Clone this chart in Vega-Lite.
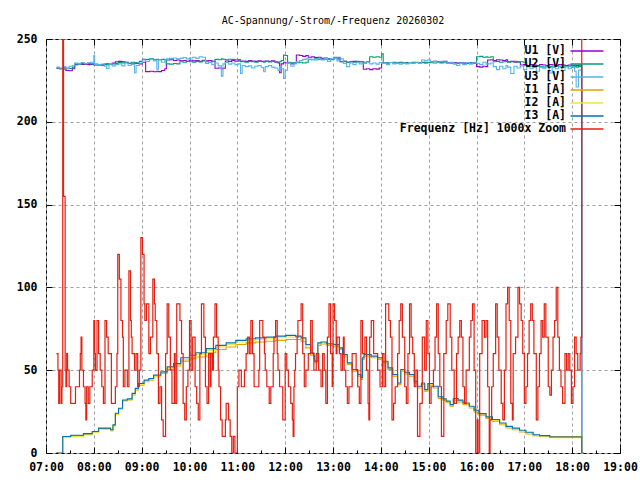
{
  "$schema": "https://vega.github.io/schema/vega-lite/v6.json",
  "width": 574,
  "height": 414,
  "autosize": {"type": "none"},
  "padding": {"left": 46, "top": 39, "right": 20, "bottom": 27},
  "background": "white",
  "title": {"text": "AC-Spannung/-Strom/-Frequenz 20260302", "font": "DejaVu Sans Mono", "fontSize": 10, "fontWeight": "normal", "offset": 7, "color": "black"},
  "config": {
    "view": {"stroke": "black", "strokeWidth": 1},
    "axis": {"labelFont": "DejaVu Sans Mono", "labelFontSize": 11.5, "labelFontWeight": "bold", "labelColor": "black", "domainColor": "black", "tickColor": "black", "gridColor": "#a0a0a0", "gridDash": [3, 3], "gridWidth": 1, "title": null}
  },
  "resolve": {"axis": {"x": "independent", "y": "independent"}},
  "layer": [
    {
      "data": {
        "format": {"parse": {"t": "date:'%H:%M'"}},
        "values": [
          {"t": "07:13", "U1": 232.3, "U2": 232.5, "U3": 233.0},
          {"t": "07:17", "U1": 232.0, "U2": 232.0, "U3": 232.5},
          {"t": "07:21", "U1": 232.5, "U2": 231.8, "U3": 233.3},
          {"t": "07:25", "U1": 231.0, "U2": 232.5, "U3": 232.0},
          {"t": "07:29", "U1": 230.8, "U2": 232.2, "U3": 233.5},
          {"t": "07:33", "U1": 232.0, "U2": 233.0, "U3": 234.0},
          {"t": "07:36", "U1": 234.5, "U2": 235.0, "U3": 235.5},
          {"t": "07:40", "U1": 234.8, "U2": 234.8, "U3": 235.0},
          {"t": "07:44", "U1": 234.6, "U2": 235.2, "U3": 235.8},
          {"t": "07:48", "U1": 234.8, "U2": 235.0, "U3": 235.2},
          {"t": "07:52", "U1": 234.5, "U2": 235.3, "U3": 235.6},
          {"t": "07:56", "U1": 234.7, "U2": 235.0, "U3": 236.0},
          {"t": "08:00", "U1": 234.3, "U2": 234.8, "U3": 240.0},
          {"t": "08:01", "U1": 234.3, "U2": 234.8, "U3": 234.5},
          {"t": "08:05", "U1": 234.0, "U2": 234.3, "U3": 234.2},
          {"t": "08:09", "U1": 234.5, "U2": 234.0, "U3": 234.8},
          {"t": "08:13", "U1": 234.8, "U2": 234.5, "U3": 233.5},
          {"t": "08:16", "U1": 235.0, "U2": 234.3, "U3": 232.2},
          {"t": "08:19", "U1": 234.6, "U2": 234.8, "U3": 234.8},
          {"t": "08:23", "U1": 235.5, "U2": 235.0, "U3": 233.8},
          {"t": "08:27", "U1": 236.3, "U2": 235.3, "U3": 234.5},
          {"t": "08:31", "U1": 236.5, "U2": 235.8, "U3": 235.0},
          {"t": "08:35", "U1": 236.2, "U2": 235.5, "U3": 233.8},
          {"t": "08:39", "U1": 236.0, "U2": 236.0, "U3": 235.5},
          {"t": "08:43", "U1": 235.3, "U2": 235.2, "U3": 234.0},
          {"t": "08:47", "U1": 235.0, "U2": 236.0, "U3": 234.8},
          {"t": "08:51", "U1": 235.5, "U2": 235.7, "U3": 229.6},
          {"t": "08:53", "U1": 235.3, "U2": 235.5, "U3": 234.0},
          {"t": "08:57", "U1": 235.0, "U2": 236.5, "U3": 235.5},
          {"t": "09:01", "U1": 236.0, "U2": 237.7, "U3": 237.3},
          {"t": "09:05", "U1": 230.3, "U2": 237.7, "U3": 236.5},
          {"t": "09:10", "U1": 230.5, "U2": 238.0, "U3": 237.5},
          {"t": "09:15", "U1": 230.2, "U2": 237.5, "U3": 236.8},
          {"t": "09:19", "U1": 230.5, "U2": 237.8, "U3": 231.7},
          {"t": "09:21", "U1": 230.3, "U2": 237.5, "U3": 237.3},
          {"t": "09:25", "U1": 231.0, "U2": 237.7, "U3": 236.0},
          {"t": "09:29", "U1": 232.0, "U2": 237.5, "U3": 237.5},
          {"t": "09:31", "U1": 237.3, "U2": 235.0, "U3": 238.0},
          {"t": "09:35", "U1": 237.5, "U2": 234.8, "U3": 238.3},
          {"t": "09:40", "U1": 237.0, "U2": 235.2, "U3": 238.5},
          {"t": "09:44", "U1": 237.3, "U2": 235.0, "U3": 238.0},
          {"t": "09:48", "U1": 236.9, "U2": 236.3, "U3": 238.3},
          {"t": "09:52", "U1": 237.0, "U2": 236.0, "U3": 238.8},
          {"t": "09:56", "U1": 236.5, "U2": 236.5, "U3": 238.0},
          {"t": "10:00", "U1": 237.2, "U2": 236.3, "U3": 238.5},
          {"t": "10:04", "U1": 236.8, "U2": 236.0, "U3": 239.0},
          {"t": "10:08", "U1": 237.0, "U2": 236.5, "U3": 238.3},
          {"t": "10:12", "U1": 236.5, "U2": 236.2, "U3": 239.3},
          {"t": "10:16", "U1": 237.2, "U2": 236.8, "U3": 239.0},
          {"t": "10:20", "U1": 236.9, "U2": 236.3, "U3": 235.3},
          {"t": "10:24", "U1": 237.0, "U2": 236.0, "U3": 236.0},
          {"t": "10:28", "U1": 236.5, "U2": 236.5, "U3": 234.5},
          {"t": "10:32", "U1": 232.3, "U2": 237.7, "U3": 235.5},
          {"t": "10:36", "U1": 232.5, "U2": 237.5, "U3": 233.8},
          {"t": "10:40", "U1": 232.0, "U2": 238.0, "U3": 227.6},
          {"t": "10:42", "U1": 232.3, "U2": 237.8, "U3": 235.0},
          {"t": "10:45", "U1": 236.7, "U2": 237.5, "U3": 235.8},
          {"t": "10:49", "U1": 236.5, "U2": 237.8, "U3": 234.8},
          {"t": "10:53", "U1": 237.0, "U2": 237.7, "U3": 235.5},
          {"t": "10:57", "U1": 236.6, "U2": 237.5, "U3": 234.5},
          {"t": "11:01", "U1": 236.8, "U2": 237.6, "U3": 235.0},
          {"t": "11:04", "U1": 236.5, "U2": 236.3, "U3": 229.2},
          {"t": "11:06", "U1": 236.7, "U2": 236.3, "U3": 234.0},
          {"t": "11:10", "U1": 236.5, "U2": 236.0, "U3": 233.3},
          {"t": "11:14", "U1": 237.0, "U2": 236.5, "U3": 233.8},
          {"t": "11:18", "U1": 236.7, "U2": 236.3, "U3": 232.5},
          {"t": "11:22", "U1": 236.5, "U2": 236.0, "U3": 233.5},
          {"t": "11:26", "U1": 236.8, "U2": 236.4, "U3": 234.0},
          {"t": "11:30", "U1": 236.5, "U2": 236.3, "U3": 232.8},
          {"t": "11:33", "U1": 236.6, "U2": 236.0, "U3": 230.2},
          {"t": "11:35", "U1": 236.7, "U2": 236.5, "U3": 233.3},
          {"t": "11:39", "U1": 236.5, "U2": 236.2, "U3": 234.0},
          {"t": "11:43", "U1": 236.8, "U2": 236.5, "U3": 233.0},
          {"t": "11:47", "U1": 236.0, "U2": 236.3, "U3": 232.5},
          {"t": "11:51", "U1": 235.5, "U2": 236.0, "U3": 231.0},
          {"t": "11:53", "U1": 229.6, "U2": 236.3, "U3": 233.3},
          {"t": "11:55", "U1": 235.0, "U2": 237.0, "U3": 232.0},
          {"t": "11:58", "U1": 236.0, "U2": 240.3, "U3": 226.2},
          {"t": "12:00", "U1": 235.5, "U2": 240.0, "U3": 231.2},
          {"t": "12:03", "U1": 235.3, "U2": 236.0, "U3": 235.3},
          {"t": "12:07", "U1": 235.0, "U2": 235.7, "U3": 233.5},
          {"t": "12:11", "U1": 235.5, "U2": 235.5, "U3": 235.0},
          {"t": "12:14", "U1": 240.3, "U2": 235.7, "U3": 236.3},
          {"t": "12:18", "U1": 240.0, "U2": 236.0, "U3": 237.0},
          {"t": "12:22", "U1": 239.5, "U2": 235.5, "U3": 237.7},
          {"t": "12:26", "U1": 240.0, "U2": 236.0, "U3": 238.0},
          {"t": "12:29", "U1": 239.0, "U2": 237.7, "U3": 237.5},
          {"t": "12:33", "U1": 239.2, "U2": 237.5, "U3": 237.7},
          {"t": "12:37", "U1": 238.8, "U2": 238.0, "U3": 237.3},
          {"t": "12:41", "U1": 239.0, "U2": 237.7, "U3": 238.0},
          {"t": "12:45", "U1": 238.3, "U2": 237.5, "U3": 237.5},
          {"t": "12:49", "U1": 238.5, "U2": 237.8, "U3": 238.3},
          {"t": "12:53", "U1": 238.0, "U2": 238.0, "U3": 236.5},
          {"t": "12:57", "U1": 237.7, "U2": 237.5, "U3": 238.0},
          {"t": "13:01", "U1": 238.3, "U2": 239.0, "U3": 238.3},
          {"t": "13:05", "U1": 238.0, "U2": 239.0, "U3": 236.8},
          {"t": "13:09", "U1": 236.3, "U2": 236.3, "U3": 238.0},
          {"t": "13:13", "U1": 236.5, "U2": 236.5, "U3": 235.3},
          {"t": "13:17", "U1": 236.0, "U2": 236.0, "U3": 233.3},
          {"t": "13:21", "U1": 236.3, "U2": 236.3, "U3": 235.5},
          {"t": "13:25", "U1": 236.5, "U2": 236.0, "U3": 234.5},
          {"t": "13:29", "U1": 236.0, "U2": 236.5, "U3": 235.8},
          {"t": "13:33", "U1": 236.3, "U2": 236.3, "U3": 235.0},
          {"t": "13:38", "U1": 231.7, "U2": 236.0, "U3": 235.3},
          {"t": "13:42", "U1": 232.0, "U2": 236.3, "U3": 236.0},
          {"t": "13:46", "U1": 231.5, "U2": 239.3, "U3": 235.0},
          {"t": "13:50", "U1": 232.0, "U2": 239.0, "U3": 235.5},
          {"t": "13:54", "U1": 231.8, "U2": 239.3, "U3": 234.8},
          {"t": "13:58", "U1": 232.5, "U2": 239.0, "U3": 235.8},
          {"t": "14:01", "U1": 235.7, "U2": 241.0, "U3": 235.3},
          {"t": "14:03", "U1": 235.7, "U2": 235.7, "U3": 235.5},
          {"t": "14:07", "U1": 235.5, "U2": 235.5, "U3": 234.5},
          {"t": "14:11", "U1": 235.8, "U2": 235.8, "U3": 235.8},
          {"t": "14:15", "U1": 235.5, "U2": 236.0, "U3": 235.0},
          {"t": "14:19", "U1": 235.7, "U2": 235.5, "U3": 235.5},
          {"t": "14:23", "U1": 236.0, "U2": 235.7, "U3": 234.8},
          {"t": "14:27", "U1": 235.5, "U2": 235.8, "U3": 235.5},
          {"t": "14:31", "U1": 235.8, "U2": 235.5, "U3": 235.0},
          {"t": "14:35", "U1": 235.7, "U2": 235.7, "U3": 235.8},
          {"t": "14:39", "U1": 235.5, "U2": 236.0, "U3": 235.3},
          {"t": "14:43", "U1": 235.8, "U2": 235.8, "U3": 236.0},
          {"t": "14:47", "U1": 235.7, "U2": 235.5, "U3": 235.3},
          {"t": "14:51", "U1": 236.0, "U2": 235.7, "U3": 237.3},
          {"t": "14:55", "U1": 235.5, "U2": 236.0, "U3": 237.0},
          {"t": "14:59", "U1": 235.8, "U2": 235.8, "U3": 237.5},
          {"t": "15:02", "U1": 236.3, "U2": 235.7, "U3": 236.3},
          {"t": "15:06", "U1": 236.5, "U2": 235.5, "U3": 236.5},
          {"t": "15:10", "U1": 236.3, "U2": 235.8, "U3": 236.0},
          {"t": "15:14", "U1": 236.0, "U2": 235.6, "U3": 236.5},
          {"t": "15:18", "U1": 236.5, "U2": 235.7, "U3": 236.3},
          {"t": "15:23", "U1": 235.7, "U2": 235.3, "U3": 235.3},
          {"t": "15:27", "U1": 235.5, "U2": 235.5, "U3": 236.0},
          {"t": "15:31", "U1": 235.8, "U2": 235.0, "U3": 235.3},
          {"t": "15:35", "U1": 235.5, "U2": 235.3, "U3": 234.0},
          {"t": "15:39", "U1": 235.7, "U2": 235.5, "U3": 235.5},
          {"t": "15:43", "U1": 235.5, "U2": 235.0, "U3": 234.5},
          {"t": "15:47", "U1": 235.8, "U2": 235.3, "U3": 235.8},
          {"t": "15:51", "U1": 235.6, "U2": 235.5, "U3": 234.8},
          {"t": "15:55", "U1": 235.7, "U2": 235.2, "U3": 235.5},
          {"t": "16:00", "U1": 233.3, "U2": 239.3, "U3": 235.3},
          {"t": "16:04", "U1": 233.0, "U2": 239.5, "U3": 234.5},
          {"t": "16:08", "U1": 233.5, "U2": 239.0, "U3": 236.0},
          {"t": "16:12", "U1": 233.3, "U2": 239.3, "U3": 234.8},
          {"t": "16:14", "U1": 237.3, "U2": 239.0, "U3": 235.0},
          {"t": "16:18", "U1": 237.5, "U2": 239.3, "U3": 235.5},
          {"t": "16:21", "U1": 237.0, "U2": 236.3, "U3": 233.3},
          {"t": "16:25", "U1": 237.5, "U2": 236.5, "U3": 231.5},
          {"t": "16:29", "U1": 237.3, "U2": 236.0, "U3": 233.5},
          {"t": "16:33", "U1": 237.0, "U2": 236.3, "U3": 232.0},
          {"t": "16:37", "U1": 237.5, "U2": 236.5, "U3": 234.0},
          {"t": "16:39", "U1": 236.3, "U2": 236.0, "U3": 233.0},
          {"t": "16:43", "U1": 236.5, "U2": 236.3, "U3": 229.2},
          {"t": "16:47", "U1": 236.0, "U2": 236.5, "U3": 233.5},
          {"t": "16:51", "U1": 236.3, "U2": 236.0, "U3": 232.5},
          {"t": "16:55", "U1": 234.3, "U2": 236.3, "U3": 233.8},
          {"t": "16:59", "U1": 234.5, "U2": 236.0, "U3": 231.5},
          {"t": "17:03", "U1": 234.0, "U2": 233.3, "U3": 233.5},
          {"t": "17:07", "U1": 234.5, "U2": 233.5, "U3": 232.0},
          {"t": "17:11", "U1": 234.3, "U2": 233.0, "U3": 233.8},
          {"t": "17:15", "U1": 234.0, "U2": 233.5, "U3": 230.5},
          {"t": "17:19", "U1": 234.5, "U2": 233.3, "U3": 233.0},
          {"t": "17:23", "U1": 234.3, "U2": 233.0, "U3": 232.3},
          {"t": "17:27", "U1": 234.0, "U2": 233.5, "U3": 233.5},
          {"t": "17:31", "U1": 234.5, "U2": 233.3, "U3": 229.5},
          {"t": "17:35", "U1": 234.3, "U2": 233.0, "U3": 233.0},
          {"t": "17:39", "U1": 234.0, "U2": 233.5, "U3": 232.0},
          {"t": "17:43", "U1": 234.5, "U2": 233.3, "U3": 233.5},
          {"t": "17:47", "U1": 234.3, "U2": 233.0, "U3": 231.0},
          {"t": "17:51", "U1": 234.0, "U2": 233.3, "U3": 233.3},
          {"t": "17:55", "U1": 234.3, "U2": 233.5, "U3": 232.0},
          {"t": "17:59", "U1": 234.0, "U2": 233.0, "U3": 233.5},
          {"t": "18:03", "U1": 234.3, "U2": 233.3, "U3": 230.5},
          {"t": "18:05", "U1": 234.0, "U2": 233.0, "U3": 221.0},
          {"t": "18:08", "U1": 234.2, "U2": 233.3, "U3": 231.2},
          {"t": "18:12", "U1": 0, "U2": 0, "U3": 0},
          {"t": "18:14", "U1": 0, "U2": 0, "U3": 0}
        ]
      },
      "transform": [{"fold": ["U1", "U2", "U3"], "as": ["series", "value"]}],
      "mark": {"type": "line", "interpolate": "step-after", "strokeWidth": 1.1, "clip": true},
      "encoding": {
        "x": {
          "field": "t", "type": "temporal",
          "scale": {"domain": [{"year": 1900, "month": 1, "date": 1, "hours": 7}, {"year": 1900, "month": 1, "date": 1, "hours": 19}]},
          "axis": {
            "orient": "bottom", "grid": true, "domain": false,
            "tickCount": 12, "format": "%H:%M",
            "tickSize": -6, "labelPadding": 14, "labelFlush": false, "labelOverlap": false
          }
        },
        "y": {
          "field": "value", "type": "quantitative",
          "scale": {"domain": [0, 250], "nice": false, "zero": false},
          "axis": {"orient": "left", "values": [0, 50, 100, 150, 200, 250], "grid": true, "domain": false, "tickSize": -6, "labelPadding": 15}
        },
        "color": {
          "field": "series", "type": "nominal",
          "scale": {"domain": ["U1", "U2", "U3", "I1", "I2", "I3", "F"], "range": ["#9400d3", "#009e73", "#56b4e9", "#e69f00", "#f0e442", "#0072b2", "#e51e10"]},
          "legend": {
            "orient": "none", "legendX": 534, "legendY": 5, "title": null, "padding": 0,
            "symbolType": "M-2.75,0H2.75", "symbolSize": 144, "symbolStrokeWidth": 1.5,
            "labelAlign": "right", "labelOffset": -28, "labelLimit": 400,
            "labelFont": "DejaVu Sans Mono", "labelFontSize": 11.5, "labelFontWeight": "bold", "labelColor": "black",
            "rowPadding": 0,
            "labelExpr": "datum.label == 'F' ? 'Frequenz [Hz] 1000x Zoom' : (datum.label[0] == 'U' ? datum.label + ' [V]' : datum.label + ' [A]')"
          }
        }
      }
    },
    {
      "data": {
        "format": {"parse": {"t": "date:'%H:%M'"}},
        "values": [
          {"t": "07:13", "I1": 0, "I2": 0, "I3": 0},
          {"t": "07:21", "I1": 10, "I2": 9.3, "I3": 10},
          {"t": "07:31", "I1": 10.4, "I2": 9.9, "I3": 10.7},
          {"t": "07:47", "I1": 11.4, "I2": 10.9, "I3": 11.7},
          {"t": "07:58", "I1": 12.7, "I2": 12.2, "I3": 13},
          {"t": "08:06", "I1": 14.7, "I2": 14.2, "I3": 15},
          {"t": "08:21", "I1": 13.7, "I2": 13.2, "I3": 14},
          {"t": "08:24", "I1": 16.5, "I2": 16.2, "I3": 17},
          {"t": "08:27", "I1": 23.5, "I2": 23.2, "I3": 24},
          {"t": "08:31", "I1": 26.5, "I2": 26.2, "I3": 27},
          {"t": "08:36", "I1": 31.5, "I2": 31.2, "I3": 32},
          {"t": "08:42", "I1": 32, "I2": 32, "I3": 32.7},
          {"t": "08:48", "I1": 35, "I2": 35.3, "I3": 36},
          {"t": "08:52", "I1": 38, "I2": 38.3, "I3": 39},
          {"t": "08:56", "I1": 41, "I2": 41.3, "I3": 42},
          {"t": "09:03", "I1": 43, "I2": 43.3, "I3": 44},
          {"t": "09:09", "I1": 44, "I2": 44.3, "I3": 45},
          {"t": "09:15", "I1": 46, "I2": 46.3, "I3": 47},
          {"t": "09:24", "I1": 48, "I2": 48.3, "I3": 49},
          {"t": "09:32", "I1": 50.5, "I2": 51.2, "I3": 52},
          {"t": "09:40", "I1": 52.5, "I2": 53.2, "I3": 54},
          {"t": "09:49", "I1": 55.5, "I2": 56.5, "I3": 57.5},
          {"t": "10:00", "I1": 57, "I2": 58, "I3": 59},
          {"t": "10:08", "I1": 58, "I2": 59.5, "I3": 60.5},
          {"t": "10:21", "I1": 60.5, "I2": 62, "I3": 63},
          {"t": "10:33", "I1": 62.5, "I2": 64, "I3": 65},
          {"t": "10:46", "I1": 64, "I2": 65.5, "I3": 66.5},
          {"t": "10:58", "I1": 65.5, "I2": 67, "I3": 68},
          {"t": "11:11", "I1": 66.5, "I2": 68, "I3": 69},
          {"t": "11:23", "I1": 67, "I2": 68.5, "I3": 69.5},
          {"t": "11:36", "I1": 67.5, "I2": 69, "I3": 70},
          {"t": "11:48", "I1": 68, "I2": 69.6, "I3": 70.6},
          {"t": "12:01", "I1": 68.5, "I2": 70, "I3": 71},
          {"t": "12:13", "I1": 68.5, "I2": 69.8, "I3": 70.6},
          {"t": "12:20", "I1": 67.5, "I2": 68.8, "I3": 69.5},
          {"t": "12:26", "I1": 63.5, "I2": 64.8, "I3": 65.5},
          {"t": "12:32", "I1": 59, "I2": 60, "I3": 60.5},
          {"t": "12:36", "I1": 57, "I2": 58, "I3": 58.5},
          {"t": "12:37", "I1": 54.5, "I2": 55, "I3": 55.5},
          {"t": "12:41", "I1": 65, "I2": 66, "I3": 66.5},
          {"t": "12:45", "I1": 65.8, "I2": 66.5, "I3": 67},
          {"t": "12:52", "I1": 65, "I2": 65.5, "I3": 66},
          {"t": "13:01", "I1": 64.5, "I2": 65, "I3": 65.5},
          {"t": "13:08", "I1": 62.5, "I2": 63, "I3": 63.5},
          {"t": "13:12", "I1": 58.5, "I2": 59, "I3": 59.5},
          {"t": "13:18", "I1": 53.4, "I2": 54, "I3": 54.4},
          {"t": "13:24", "I1": 49.4, "I2": 50, "I3": 50.4},
          {"t": "13:31", "I1": 46.4, "I2": 47, "I3": 47.4},
          {"t": "13:35", "I1": 44.4, "I2": 45, "I3": 45.4},
          {"t": "13:37", "I1": 56.5, "I2": 57, "I3": 57.5},
          {"t": "13:39", "I1": 58.5, "I2": 59, "I3": 59.5},
          {"t": "13:48", "I1": 57.5, "I2": 58, "I3": 58.5},
          {"t": "13:56", "I1": 56.5, "I2": 57, "I3": 57.5},
          {"t": "14:02", "I1": 54.4, "I2": 55, "I3": 55.4},
          {"t": "14:09", "I1": 50.4, "I2": 51, "I3": 51.4},
          {"t": "14:15", "I1": 46.4, "I2": 47, "I3": 47.4},
          {"t": "14:21", "I1": 41.3, "I2": 41.8, "I3": 42.3},
          {"t": "14:25", "I1": 49.4, "I2": 50, "I3": 50.4},
          {"t": "14:30", "I1": 47.8, "I2": 48.3, "I3": 48.8},
          {"t": "14:36", "I1": 46.4, "I2": 47, "I3": 47.4},
          {"t": "14:42", "I1": 42.3, "I2": 42.8, "I3": 43.3},
          {"t": "14:46", "I1": 39.3, "I2": 39.8, "I3": 40.3},
          {"t": "14:51", "I1": 41.3, "I2": 41.8, "I3": 42.3},
          {"t": "14:55", "I1": 37.3, "I2": 37.8, "I3": 38.3},
          {"t": "14:59", "I1": 41, "I2": 41.5, "I3": 42},
          {"t": "15:06", "I1": 39.3, "I2": 39.8, "I3": 40.3},
          {"t": "15:12", "I1": 33, "I2": 33.5, "I3": 34},
          {"t": "15:18", "I1": 31.7, "I2": 32.2, "I3": 32.7},
          {"t": "15:22", "I1": 30.3, "I2": 30.8, "I3": 31.3},
          {"t": "15:27", "I1": 28.2, "I2": 28.7, "I3": 29.2},
          {"t": "15:31", "I1": 31.9, "I2": 32.4, "I3": 32.9},
          {"t": "15:37", "I1": 30.9, "I2": 31.4, "I3": 31.9},
          {"t": "15:43", "I1": 29.2, "I2": 29.7, "I3": 30.2},
          {"t": "15:51", "I1": 27.2, "I2": 27.7, "I3": 28.2},
          {"t": "15:57", "I1": 24.8, "I2": 25.3, "I3": 25.8},
          {"t": "16:03", "I1": 22.8, "I2": 23.3, "I3": 23.8},
          {"t": "16:12", "I1": 20.8, "I2": 21.3, "I3": 21.8},
          {"t": "16:20", "I1": 19.2, "I2": 19.7, "I3": 20.2},
          {"t": "16:29", "I1": 17.1, "I2": 17.6, "I3": 18.1},
          {"t": "16:37", "I1": 15.1, "I2": 15.6, "I3": 16.1},
          {"t": "16:45", "I1": 14, "I2": 14.5, "I3": 15},
          {"t": "16:54", "I1": 12.7, "I2": 13.2, "I3": 13.7},
          {"t": "17:02", "I1": 11.5, "I2": 12, "I3": 12.5},
          {"t": "17:11", "I1": 10.5, "I2": 10.5, "I3": 11},
          {"t": "17:19", "I1": 10.3, "I2": 9.8, "I3": 10.5},
          {"t": "17:32", "I1": 10, "I2": 9.2, "I3": 9.7},
          {"t": "18:12", "I1": 0, "I2": 0, "I3": 0},
          {"t": "18:14", "I1": 0, "I2": 0, "I3": 0}
        ]
      },
      "transform": [{"fold": ["I1", "I2", "I3"], "as": ["series", "value"]}],
      "mark": {"type": "line", "interpolate": "step-after", "strokeWidth": 1.1, "clip": true},
      "encoding": {
        "x": {
          "field": "t", "type": "temporal",
          "axis": {"orient": "top", "grid": false, "labels": false, "domain": false, "tickCount": 12, "tickSize": -6}
        },
        "y": {
          "field": "value", "type": "quantitative",
          "axis": {"orient": "right", "values": [0, 50, 100, 150, 200, 250], "grid": false, "labels": false, "domain": false, "tickSize": -6}
        },
        "color": {"field": "series", "type": "nominal"}
      }
    },
    {
      "data": {
        "format": {"parse": {"t": "date:'%H:%M'"}},
        "values": [
          {"t": "07:13", "F": 60}, {"t": "07:15", "F": 50}, {"t": "07:16", "F": 30}, {"t": "07:17", "F": 50},
          {"t": "07:19", "F": 30}, {"t": "07:20", "F": 40}, {"t": "07:21", "F": 300}, {"t": "07:22", "F": 155},
          {"t": "07:24", "F": 50}, {"t": "07:25", "F": 40}, {"t": "07:26", "F": 60}, {"t": "07:27", "F": 50},
          {"t": "07:29", "F": 40}, {"t": "07:31", "F": 30}, {"t": "07:37", "F": 40}, {"t": "07:42", "F": 50},
          {"t": "07:43", "F": 60}, {"t": "07:44", "F": 70}, {"t": "07:45", "F": 50}, {"t": "07:47", "F": 40},
          {"t": "07:49", "F": 30}, {"t": "07:50", "F": 20}, {"t": "07:51", "F": 40}, {"t": "07:53", "F": 30},
          {"t": "07:55", "F": 40}, {"t": "07:58", "F": 50}, {"t": "08:00", "F": 80}, {"t": "08:01", "F": 60},
          {"t": "08:02", "F": 50}, {"t": "08:04", "F": 80}, {"t": "08:06", "F": 60}, {"t": "08:08", "F": 50},
          {"t": "08:10", "F": 40}, {"t": "08:12", "F": 30}, {"t": "08:14", "F": 80}, {"t": "08:16", "F": 70},
          {"t": "08:18", "F": 60}, {"t": "08:22", "F": 30}, {"t": "08:27", "F": 40}, {"t": "08:29", "F": 60},
          {"t": "08:30", "F": 120}, {"t": "08:32", "F": 105}, {"t": "08:34", "F": 80}, {"t": "08:36", "F": 70},
          {"t": "08:37", "F": 40}, {"t": "08:39", "F": 50}, {"t": "08:42", "F": 40}, {"t": "08:44", "F": 110},
          {"t": "08:46", "F": 80}, {"t": "08:47", "F": 70}, {"t": "08:48", "F": 60}, {"t": "08:51", "F": 50},
          {"t": "08:53", "F": 60}, {"t": "08:55", "F": 40}, {"t": "08:57", "F": 50}, {"t": "08:59", "F": 130},
          {"t": "09:01", "F": 120}, {"t": "09:03", "F": 90}, {"t": "09:04", "F": 80}, {"t": "09:06", "F": 90},
          {"t": "09:09", "F": 60}, {"t": "09:11", "F": 70}, {"t": "09:14", "F": 105}, {"t": "09:16", "F": 90},
          {"t": "09:17", "F": 80}, {"t": "09:19", "F": 60}, {"t": "09:21", "F": 30}, {"t": "09:23", "F": 40},
          {"t": "09:25", "F": 20}, {"t": "09:27", "F": 10}, {"t": "09:30", "F": 60}, {"t": "09:32", "F": 90},
          {"t": "09:34", "F": 70}, {"t": "09:36", "F": 50}, {"t": "09:38", "F": 30}, {"t": "09:41", "F": 60},
          {"t": "09:42", "F": 30}, {"t": "09:44", "F": 90}, {"t": "09:48", "F": 80}, {"t": "09:50", "F": 60},
          {"t": "09:52", "F": 30}, {"t": "09:54", "F": 20}, {"t": "09:56", "F": 40}, {"t": "09:58", "F": 50},
          {"t": "10:00", "F": 80}, {"t": "10:02", "F": 50}, {"t": "10:04", "F": 70}, {"t": "10:07", "F": 40},
          {"t": "10:09", "F": 30}, {"t": "10:11", "F": 20}, {"t": "10:13", "F": 60}, {"t": "10:15", "F": 90},
          {"t": "10:18", "F": 70}, {"t": "10:20", "F": 40}, {"t": "10:22", "F": 30}, {"t": "10:24", "F": 60},
          {"t": "10:26", "F": 40}, {"t": "10:27", "F": 60}, {"t": "10:29", "F": 50}, {"t": "10:30", "F": 70},
          {"t": "10:32", "F": 90}, {"t": "10:34", "F": 70}, {"t": "10:36", "F": 50}, {"t": "10:37", "F": 40},
          {"t": "10:39", "F": 20}, {"t": "10:41", "F": 10}, {"t": "10:45", "F": 20}, {"t": "10:46", "F": 30},
          {"t": "10:49", "F": 20}, {"t": "10:51", "F": 10}, {"t": "10:53", "F": 0}, {"t": "10:55", "F": 10},
          {"t": "10:57", "F": 0}, {"t": "11:00", "F": 40}, {"t": "11:02", "F": 50}, {"t": "11:05", "F": 40},
          {"t": "11:09", "F": 50}, {"t": "11:11", "F": 60}, {"t": "11:13", "F": 70}, {"t": "11:15", "F": 60},
          {"t": "11:17", "F": 80}, {"t": "11:19", "F": 60}, {"t": "11:21", "F": 40}, {"t": "11:27", "F": 50},
          {"t": "11:28", "F": 80}, {"t": "11:32", "F": 70}, {"t": "11:34", "F": 60}, {"t": "11:35", "F": 50},
          {"t": "11:37", "F": 40}, {"t": "11:40", "F": 30}, {"t": "11:42", "F": 40}, {"t": "11:45", "F": 60},
          {"t": "11:46", "F": 70}, {"t": "11:48", "F": 80}, {"t": "11:50", "F": 60}, {"t": "11:51", "F": 50},
          {"t": "11:53", "F": 40}, {"t": "11:57", "F": 20}, {"t": "12:00", "F": 60}, {"t": "12:02", "F": 50},
          {"t": "12:04", "F": 40}, {"t": "12:07", "F": 30}, {"t": "12:09", "F": 20}, {"t": "12:10", "F": 10},
          {"t": "12:11", "F": 40}, {"t": "12:12", "F": 50}, {"t": "12:13", "F": 60}, {"t": "12:15", "F": 70},
          {"t": "12:16", "F": 80}, {"t": "12:20", "F": 90}, {"t": "12:22", "F": 60}, {"t": "12:24", "F": 40},
          {"t": "12:26", "F": 50}, {"t": "12:29", "F": 60}, {"t": "12:32", "F": 80}, {"t": "12:34", "F": 60},
          {"t": "12:36", "F": 50}, {"t": "12:39", "F": 60}, {"t": "12:42", "F": 50}, {"t": "12:45", "F": 40},
          {"t": "12:47", "F": 60}, {"t": "12:49", "F": 50}, {"t": "12:51", "F": 30}, {"t": "12:53", "F": 70},
          {"t": "12:55", "F": 90}, {"t": "12:57", "F": 60}, {"t": "12:59", "F": 40}, {"t": "13:00", "F": 90},
          {"t": "13:02", "F": 80}, {"t": "13:04", "F": 60}, {"t": "13:05", "F": 70}, {"t": "13:08", "F": 60},
          {"t": "13:10", "F": 50}, {"t": "13:12", "F": 60}, {"t": "13:13", "F": 70}, {"t": "13:14", "F": 50},
          {"t": "13:16", "F": 40}, {"t": "13:18", "F": 30}, {"t": "13:20", "F": 40}, {"t": "13:24", "F": 60},
          {"t": "13:29", "F": 50}, {"t": "13:31", "F": 40}, {"t": "13:33", "F": 30}, {"t": "13:35", "F": 80},
          {"t": "13:37", "F": 60}, {"t": "13:40", "F": 70}, {"t": "13:42", "F": 50}, {"t": "13:44", "F": 30},
          {"t": "13:45", "F": 20}, {"t": "13:46", "F": 70}, {"t": "13:48", "F": 80}, {"t": "13:51", "F": 60},
          {"t": "13:56", "F": 50}, {"t": "13:59", "F": 40}, {"t": "14:02", "F": 60}, {"t": "14:04", "F": 40},
          {"t": "14:06", "F": 90}, {"t": "14:10", "F": 80}, {"t": "14:12", "F": 70}, {"t": "14:14", "F": 20},
          {"t": "14:16", "F": 30}, {"t": "14:18", "F": 40}, {"t": "14:21", "F": 60}, {"t": "14:23", "F": 80},
          {"t": "14:25", "F": 90}, {"t": "14:27", "F": 70}, {"t": "14:30", "F": 40}, {"t": "14:32", "F": 30},
          {"t": "14:34", "F": 60}, {"t": "14:36", "F": 90}, {"t": "14:38", "F": 70}, {"t": "14:40", "F": 60},
          {"t": "14:42", "F": 40}, {"t": "14:44", "F": 50}, {"t": "14:46", "F": 10}, {"t": "14:49", "F": 30},
          {"t": "14:52", "F": 70}, {"t": "14:55", "F": 50}, {"t": "14:57", "F": 80}, {"t": "14:59", "F": 60},
          {"t": "15:01", "F": 30}, {"t": "15:03", "F": 40}, {"t": "15:06", "F": 50}, {"t": "15:08", "F": 70},
          {"t": "15:10", "F": 90}, {"t": "15:12", "F": 60}, {"t": "15:14", "F": 40}, {"t": "15:16", "F": 10},
          {"t": "15:19", "F": 60}, {"t": "15:22", "F": 80}, {"t": "15:24", "F": 90}, {"t": "15:27", "F": 70},
          {"t": "15:29", "F": 50}, {"t": "15:32", "F": 30}, {"t": "15:35", "F": 60}, {"t": "15:37", "F": 70},
          {"t": "15:39", "F": 80}, {"t": "15:41", "F": 70}, {"t": "15:43", "F": 40}, {"t": "15:45", "F": 30},
          {"t": "15:47", "F": 50}, {"t": "15:51", "F": 70}, {"t": "15:53", "F": 80}, {"t": "15:55", "F": 90},
          {"t": "15:57", "F": 50}, {"t": "15:59", "F": 0}, {"t": "16:01", "F": 20}, {"t": "16:02", "F": 0},
          {"t": "16:04", "F": 60}, {"t": "16:07", "F": 80}, {"t": "16:10", "F": 70}, {"t": "16:12", "F": 80},
          {"t": "16:14", "F": 40}, {"t": "16:16", "F": 0}, {"t": "16:17", "F": 20}, {"t": "16:19", "F": 40},
          {"t": "16:21", "F": 60}, {"t": "16:24", "F": 90}, {"t": "16:26", "F": 70}, {"t": "16:28", "F": 50},
          {"t": "16:31", "F": 30}, {"t": "16:33", "F": 20}, {"t": "16:35", "F": 50}, {"t": "16:37", "F": 90},
          {"t": "16:39", "F": 100}, {"t": "16:41", "F": 80}, {"t": "16:43", "F": 30}, {"t": "16:45", "F": 20},
          {"t": "16:46", "F": 60}, {"t": "16:49", "F": 70}, {"t": "16:52", "F": 100}, {"t": "16:54", "F": 90},
          {"t": "16:56", "F": 80}, {"t": "16:58", "F": 60}, {"t": "17:00", "F": 30}, {"t": "17:02", "F": 40},
          {"t": "17:04", "F": 60}, {"t": "17:06", "F": 80}, {"t": "17:08", "F": 90}, {"t": "17:10", "F": 80},
          {"t": "17:12", "F": 60}, {"t": "17:15", "F": 20}, {"t": "17:17", "F": 40}, {"t": "17:19", "F": 60},
          {"t": "17:21", "F": 80}, {"t": "17:23", "F": 70}, {"t": "17:25", "F": 90}, {"t": "17:27", "F": 70},
          {"t": "17:30", "F": 40}, {"t": "17:32", "F": 35}, {"t": "17:34", "F": 50}, {"t": "17:36", "F": 70},
          {"t": "17:38", "F": 80}, {"t": "17:40", "F": 100}, {"t": "17:42", "F": 70}, {"t": "17:44", "F": 50},
          {"t": "17:46", "F": 40}, {"t": "17:48", "F": 30}, {"t": "17:51", "F": 60}, {"t": "17:53", "F": 50},
          {"t": "17:55", "F": 60}, {"t": "17:57", "F": 50}, {"t": "17:59", "F": 30}, {"t": "18:01", "F": 40},
          {"t": "18:03", "F": 70}, {"t": "18:05", "F": 60}, {"t": "18:07", "F": 50}, {"t": "18:10", "F": 60},
          {"t": "18:11", "F": 70}, {"t": "18:12", "F": 300}
        ]
      },
      "transform": [{"fold": ["F"], "as": ["series", "value"]}],
      "mark": {"type": "line", "interpolate": "step-after", "strokeWidth": 1.2, "clip": true},
      "encoding": {
        "x": {
          "field": "t", "type": "temporal",
          "axis": {
            "orient": "bottom", "grid": false, "labels": false, "domain": false, "tickSize": -3,
            "values": [
              {"year": 1900, "month": 1, "date": 1, "hours": 7, "minutes": 30},
              {"year": 1900, "month": 1, "date": 1, "hours": 8, "minutes": 30},
              {"year": 1900, "month": 1, "date": 1, "hours": 9, "minutes": 30},
              {"year": 1900, "month": 1, "date": 1, "hours": 10, "minutes": 30},
              {"year": 1900, "month": 1, "date": 1, "hours": 11, "minutes": 30},
              {"year": 1900, "month": 1, "date": 1, "hours": 12, "minutes": 30},
              {"year": 1900, "month": 1, "date": 1, "hours": 13, "minutes": 30},
              {"year": 1900, "month": 1, "date": 1, "hours": 14, "minutes": 30},
              {"year": 1900, "month": 1, "date": 1, "hours": 15, "minutes": 30},
              {"year": 1900, "month": 1, "date": 1, "hours": 16, "minutes": 30},
              {"year": 1900, "month": 1, "date": 1, "hours": 17, "minutes": 30},
              {"year": 1900, "month": 1, "date": 1, "hours": 18, "minutes": 30}
            ]
          }
        },
        "y": {"field": "value", "type": "quantitative", "axis": null},
        "color": {"field": "series", "type": "nominal"}
      }
    }
  ]
}
